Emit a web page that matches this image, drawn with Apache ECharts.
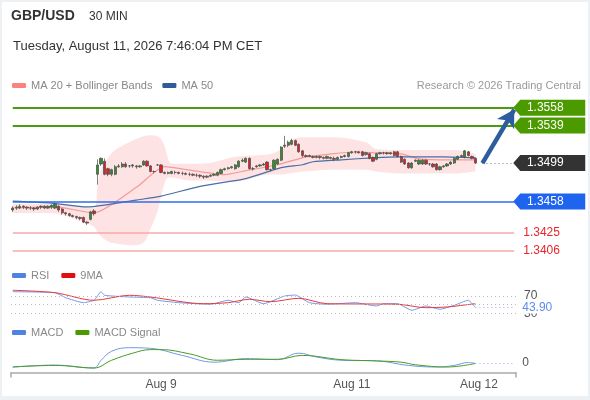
<!DOCTYPE html>
<html>
<head>
<meta charset="utf-8">
<script src="https://cdn.jsdelivr.net/npm/echarts@6.0.0/dist/echarts.min.js"></script>
<style>
  html, body { margin: 0; padding: 0; background: #edf1f4; }
  #paper { position: absolute; left: 2px; top: 2px; width: 586px; height: 394px; background: #fff; }
  #chart { position: absolute; left: 0; top: 0; width: 590px; height: 400px; }
</style>
</head>
<body>
<div id="paper"></div>
<div id="chart"></div>
<script>
// ---- x axis: 30-min slots, only three day labels are shown ----
const SLOTS = 143;
const dayLabels = ['Aug 9', 'Aug 11', 'Aug 12'];
const dayLabelIdx = [42, 96, 132];

// ---- GBP/USD 30 min candles ----
const candleOpen = [
  1.3449, 1.3451, 1.3451, 1.3453, 1.3452, 1.3451, 1.3451, 1.3450, 1.3452, 1.3453,
  1.3451, 1.3452, 1.3451, 1.3453, 1.3450, 1.3446, 1.3445, 1.3443, 1.3442, 1.3441,
  1.3441, 1.3436, 1.3439, 1.3448, 1.3487, 1.3498, 1.3501, 1.3493, 1.3487, 1.3487,
  1.3495, 1.3495, 1.3498, 1.3496, 1.3496, 1.3496, 1.3495, 1.3497, 1.3501, 1.3496,
  1.3490, 1.3497, 1.3497, 1.3489, 1.3488, 1.3488, 1.3489, 1.3489, 1.3488, 1.3488,
  1.3487, 1.3487, 1.3486, 1.3486, 1.3485, 1.3484, 1.3485, 1.3486, 1.3486, 1.3488,
  1.3492, 1.3493, 1.3494, 1.3493, 1.3495, 1.3501, 1.3500, 1.3504, 1.3493, 1.3495,
  1.3496, 1.3497, 1.3500, 1.3492, 1.3493, 1.3498, 1.3502, 1.3517, 1.3518, 1.3519,
  1.3523, 1.3519, 1.3512, 1.3507, 1.3506, 1.3506, 1.3505, 1.3506, 1.3505, 1.3504,
  1.3505, 1.3504, 1.3503, 1.3505, 1.3506, 1.3506, 1.3510, 1.3511, 1.3511, 1.3511,
  1.3508, 1.3509, 1.3505, 1.3503, 1.3509, 1.3510, 1.3510, 1.3509, 1.3511, 1.3511,
  1.3506, 1.3503, 1.3499, 1.3494, 1.3501, 1.3498, 1.3498, 1.3502, 1.3498, 1.3498,
  1.3498, 1.3492, 1.3495, 1.3496, 1.3498, 1.3499, 1.3503, 1.3506, 1.3505, 1.3511,
  1.3506, 1.3504
];
const candleClose = [
  1.3451, 1.3452, 1.3453, 1.3452, 1.3451, 1.3451, 1.3450, 1.3452, 1.3453, 1.3451,
  1.3453, 1.3454, 1.3455, 1.3449, 1.3446, 1.3445, 1.3443, 1.3442, 1.3441, 1.3440,
  1.3436, 1.3435, 1.3447, 1.3445, 1.3497, 1.3504, 1.3487, 1.3487, 1.3492, 1.3495,
  1.3496, 1.3498, 1.3495, 1.3496, 1.3497, 1.3495, 1.3496, 1.3501, 1.3496, 1.3490,
  1.3490, 1.3497, 1.3489, 1.3488, 1.3489, 1.3490, 1.3489, 1.3488, 1.3488, 1.3487,
  1.3487, 1.3486, 1.3486, 1.3485, 1.3484, 1.3485, 1.3486, 1.3487, 1.3489, 1.3492,
  1.3493, 1.3494, 1.3495, 1.3497, 1.3501, 1.3502, 1.3504, 1.3493, 1.3493, 1.3496,
  1.3497, 1.3498, 1.3492, 1.3492, 1.3502, 1.3503, 1.3516, 1.3518, 1.3521, 1.3523,
  1.3518, 1.3511, 1.3507, 1.3506, 1.3507, 1.3505, 1.3506, 1.3505, 1.3504, 1.3506,
  1.3504, 1.3503, 1.3505, 1.3506, 1.3507, 1.3510, 1.3511, 1.3511, 1.3510, 1.3507,
  1.3510, 1.3504, 1.3501, 1.3509, 1.3510, 1.3510, 1.3509, 1.3510, 1.3507, 1.3506,
  1.3500, 1.3498, 1.3494, 1.3499, 1.3502, 1.3502, 1.3502, 1.3498, 1.3498, 1.3495,
  1.3492, 1.3495, 1.3496, 1.3498, 1.3500, 1.3504, 1.3506, 1.3507, 1.3512, 1.3507,
  1.3504, 1.3499
];
const candleLow = [
  1.3447, 1.3449, 1.3450, 1.3450, 1.3449, 1.3449, 1.3448, 1.3449, 1.3450, 1.3450,
  1.3450, 1.3450, 1.3450, 1.3447, 1.3444, 1.3443, 1.3442, 1.3441, 1.3439, 1.3438,
  1.3435, 1.3433, 1.3438, 1.3443, 1.3476, 1.3496, 1.3486, 1.3485, 1.3485, 1.3486,
  1.3494, 1.3494, 1.3494, 1.3494, 1.3494, 1.3493, 1.3494, 1.3496, 1.3495, 1.3489,
  1.3488, 1.3496, 1.3488, 1.3487, 1.3487, 1.3487, 1.3487, 1.3487, 1.3486, 1.3486,
  1.3485, 1.3485, 1.3484, 1.3483, 1.3482, 1.3483, 1.3484, 1.3485, 1.3485, 1.3487,
  1.3491, 1.3492, 1.3493, 1.3492, 1.3494, 1.3500, 1.3499, 1.3492, 1.3491, 1.3494,
  1.3495, 1.3496, 1.3491, 1.3490, 1.3492, 1.3497, 1.3501, 1.3515, 1.3516, 1.3518,
  1.3517, 1.3510, 1.3505, 1.3505, 1.3505, 1.3504, 1.3504, 1.3503, 1.3503, 1.3503,
  1.3503, 1.3501, 1.3502, 1.3504, 1.3505, 1.3505, 1.3509, 1.3509, 1.3509, 1.3506,
  1.3507, 1.3503, 1.3500, 1.3502, 1.3508, 1.3508, 1.3508, 1.3508, 1.3506, 1.3505,
  1.3499, 1.3497, 1.3493, 1.3493, 1.3500, 1.3497, 1.3497, 1.3497, 1.3496, 1.3494,
  1.3491, 1.3491, 1.3494, 1.3495, 1.3497, 1.3498, 1.3502, 1.3505, 1.3504, 1.3506,
  1.3503, 1.3498
];
const candleHigh = [
  1.3453, 1.3454, 1.3455, 1.3454, 1.3453, 1.3453, 1.3452, 1.3453, 1.3454, 1.3454,
  1.3454, 1.3455, 1.3457, 1.3454, 1.3451, 1.3447, 1.3446, 1.3444, 1.3443, 1.3442,
  1.3442, 1.3437, 1.3448, 1.3450, 1.3503, 1.3505, 1.3504, 1.3494, 1.3493, 1.3497,
  1.3498, 1.3500, 1.3500, 1.3497, 1.3498, 1.3497, 1.3497, 1.3502, 1.3502, 1.3497,
  1.3491, 1.3498, 1.3498, 1.3490, 1.3490, 1.3491, 1.3491, 1.3490, 1.3490, 1.3489,
  1.3489, 1.3488, 1.3488, 1.3487, 1.3486, 1.3486, 1.3487, 1.3488, 1.3490, 1.3493,
  1.3494, 1.3495, 1.3496, 1.3498, 1.3502, 1.3504, 1.3505, 1.3505, 1.3495, 1.3497,
  1.3498, 1.3499, 1.3501, 1.3493, 1.3503, 1.3504, 1.3517, 1.3528, 1.3523, 1.3525,
  1.3524, 1.3520, 1.3513, 1.3508, 1.3508, 1.3507, 1.3507, 1.3507, 1.3506, 1.3507,
  1.3506, 1.3506, 1.3506, 1.3507, 1.3508, 1.3511, 1.3512, 1.3512, 1.3512, 1.3512,
  1.3511, 1.3510, 1.3506, 1.3510, 1.3511, 1.3511, 1.3511, 1.3511, 1.3512, 1.3512,
  1.3507, 1.3504, 1.3500, 1.3500, 1.3503, 1.3503, 1.3503, 1.3503, 1.3499, 1.3499,
  1.3499, 1.3496, 1.3497, 1.3499, 1.3501, 1.3505, 1.3507, 1.3508, 1.3513, 1.3512,
  1.3507, 1.3505
];

// ---- MA 20 / MA 50 / Bollinger bands (vertices read at slot indices) ----
const ma20Idx = [0, 12, 23, 35, 43, 51, 60, 66, 75, 83, 90, 97, 103, 110, 115, 124, 131];
const ma20Val = [1.34511, 1.34522, 1.34459, 1.34731, 1.34951, 1.34909, 1.34867, 1.34909, 1.34972,
                 1.35056, 1.35087, 1.35108, 1.35098, 1.35087, 1.35035, 1.35025, 1.35025];
const ma50Idx = [0, 11, 21, 26, 35, 42, 53, 66, 76, 82, 85, 93, 102, 110, 122, 131];
const ma50Val = [1.34584, 1.34563, 1.34522, 1.34542, 1.34595, 1.34637, 1.34742, 1.34825,
                 1.34941, 1.34972, 1.35004, 1.35025, 1.35046, 1.35056, 1.35056, 1.35046];
const bbIdx = [0, 8, 13, 19, 23, 24, 25, 27, 29, 33, 37, 39, 41, 42, 43, 44, 45, 50, 54, 63,
               73, 76, 78, 82, 90, 100, 103, 110, 125, 131];
const bbUpper = [1.34553, 1.34553, 1.34553, 1.34532, 1.34511, 1.34742, 1.34920, 1.35046, 1.35129, 1.35213,
                 1.35276, 1.35287, 1.35276, 1.35245, 1.35171, 1.35035, 1.34983, 1.34983, 1.34983, 1.35056,
                 1.35087, 1.35140, 1.35224, 1.35266, 1.35266, 1.35213, 1.35140, 1.35129, 1.35129, 1.35087];
const bbLower = [1.34459, 1.34459, 1.34448, 1.34375, 1.34312, 1.34249, 1.34207, 1.34155, 1.34134, 1.34113,
                 1.34144, 1.34291, 1.34480, 1.34637, 1.34773, 1.34836, 1.34836, 1.34804, 1.34804, 1.34794,
                 1.34867, 1.34867, 1.34878, 1.34899, 1.34920, 1.34920, 1.34899, 1.34878, 1.34878, 1.34899];

// ---- price levels ----
const resistance = [1.3558, 1.3539];
const lastPrice = 1.3499;
const support = 1.3458;
const weakLevels = [1.3425, 1.3406];
const arrowTarget = 1.3556;

// ---- RSI + 9MA ----
const rsiIdx = [0, 12, 15, 20, 23, 25, 26, 33, 39, 41, 47, 56, 61, 64, 66, 71, 77, 80, 84, 89,
                97, 103, 105, 109, 113, 117, 121, 125, 129, 131];
const rsiVal = [79.4, 77.1, 65.8, 54.6, 60.0, 79.4, 71.3, 67.4, 65.8, 60.0, 54.6, 50.9, 60.0, 54.6, 67.4,
                52.3, 69.7, 71.9, 54.6, 50.9, 54.6, 47.1, 52.3, 52.3, 37.4, 47.1, 39.7, 48.7, 60.0, 43.9];
const rsiMaIdx = [0, 12, 23, 33, 39, 54, 61, 67, 73, 81, 89, 109, 117, 123, 128, 131];
const rsiMaVal = [82.6, 77.1, 60.0, 71.3, 67.4, 52.3, 54.6, 62.2, 56.8, 64.5, 52.3, 51.0, 43.3, 44.9, 49.4, 52.3];
const rsiLevels = [70, 50, 30];
const rsiLast = 43.90;

// ---- MACD + signal ----
const macdIdx = [0, 12, 23, 25, 28, 33, 39, 48, 57, 66, 75, 81, 86, 93, 103, 112, 120, 125, 129, 131];
const macdVal = [-0.00013, -0.00007, -0.00016, 0.00008, 0.00036, 0.00047, 0.00045, 0.00023, 0.00002, 0.00013,
                 0.00010, 0.00030, 0.00018, 0.00008, 0.00006, -0.00008, -0.00013, -0.00008, 0.00001, -0.00002];
const signalIdx = [0, 12, 23, 28, 34, 39, 42, 50, 58, 66, 75, 82, 93, 103, 110, 114, 123, 131];
const signalVal = [-0.00013, -0.00008, -0.00016, 0.00008, 0.00030, 0.00041, 0.00041, 0.00028, 0.00008,
                   0.00011, 0.00011, 0.00023, 0.00010, 0.00006, 0.00002, -0.00006, -0.00013, -0.00002];

const FONT = '"Liberation Sans", Arial, sans-serif';
const categories = Array.from({ length: SLOTS }, (_, i) => String(i));
const pairs = (idx, vals) => idx.map((x, k) => [x, vals[k]]);
const LAST = candleOpen.length - 1;
const END = SLOTS - 1;

const chart = echarts.init(document.getElementById('chart'), null, { renderer: 'canvas' });

const hiddenX = gi => ({ type: 'category', gridIndex: gi, data: categories, boundaryGap: true, show: false });

// pentagon tag pointing left, like the price boxes on the right
const tagPath = 'path://M0,8.5L7,0H72V17H7Z';
const tag = (v, color) => ({
  coord: [END, v], value: v,
  symbol: tagPath, symbolSize: [72, 16], symbolKeepAspect: false, symbolOffset: [35, 0],
  itemStyle: { color },
  label: { show: true, position: 'inside', color: '#fff', fontSize: 12, fontFamily: FONT,
           offset: [-4, 0], formatter: v.toFixed(4) },
});

// a level drawn as a coord pair (yAxis-only marklines get rounded on this axis)
const level = (v, from, lineStyle, label) => [
  { coord: [from, v], lineStyle, label: label || { show: false } },
  { coord: [END, v] },
];
const levelLines = [
  ...resistance.map(v => level(v, 0, { color: '#4c9a0e', width: 2, type: 'solid' })),
  level(support, 0, { color: '#2f6ee8', width: 1.5, type: 'solid' }),
  ...weakLevels.map(v => level(v, 0, { color: '#f7a9a9', width: 1.5, type: 'solid' },
    { show: true, position: 'end', distance: 9, color: '#e8262a', fontSize: 12, formatter: v.toFixed(4) })),
  level(lastPrice, LAST + 2, { color: '#777', width: 1, type: [1, 3] }),
];

const option = {
  animation: false,
  backgroundColor: 'transparent',
  textStyle: { fontFamily: FONT },
  title: [
    { text: 'GBP/USD', left: 11, top: 9, padding: 0, textStyle: { fontSize: 14, fontWeight: 'bold', color: '#333', fontFamily: FONT } },
    { text: '30 MIN', left: 89, top: 11, padding: 0, textStyle: { fontSize: 12, fontWeight: 'normal', color: '#333', fontFamily: FONT } },
    { text: 'Tuesday, August 11, 2026 7:46:04 PM CET', left: 13, top: 40, padding: 0,
      textStyle: { fontSize: 13, fontWeight: 'normal', color: '#333', fontFamily: FONT } },
    { text: 'Research © 2026 Trading Central', right: 9, top: 80, padding: 0,
      textStyle: { fontSize: 11, fontWeight: 'normal', color: '#999', fontFamily: FONT } },
  ],
  legend: [
    { left: 12, top: 80, padding: 0, icon: 'roundRect', itemWidth: 14, itemHeight: 5, itemGap: 10,
      selectedMode: false, textStyle: { color: '#888', fontSize: 11 },
      data: [{ name: 'MA 20 + Bollinger Bands', itemStyle: { color: '#ff8080' } },
             { name: 'MA 50', itemStyle: { color: '#2f5b9c' } }] },
    { left: 12, top: 270, padding: 0, icon: 'roundRect', itemWidth: 14, itemHeight: 5, itemGap: 12,
      selectedMode: false, textStyle: { color: '#888', fontSize: 11 },
      data: [{ name: 'RSI', itemStyle: { color: '#4f82e3' } }, { name: '9MA', itemStyle: { color: '#e01010' } }] },
    { left: 12, top: 327, padding: 0, icon: 'roundRect', itemWidth: 14, itemHeight: 5, itemGap: 12,
      selectedMode: false, textStyle: { color: '#888', fontSize: 11 },
      data: [{ name: 'MACD', itemStyle: { color: '#4f82e3' } }, { name: 'MACD Signal', itemStyle: { color: '#4a9a00' } }] },
  ],
  grid: [
    { left: 11, width: 505, top: 100.2, height: 159.5 },
    { left: 11, width: 505, top: 287, height: 31 },
    { left: 11, width: 505, top: 343.5, height: 29 },
  ],
  xAxis: [
    hiddenX(0),
    hiddenX(1),
    {
      type: 'category', gridIndex: 2, data: categories, boundaryGap: true,
      axisLine: { show: false }, axisTick: { show: false }, splitLine: { show: false },
      axisLabel: {
        color: '#555', fontSize: 12, margin: 6,
        interval: i => dayLabelIdx.includes(i),
        formatter: (v, i) => { const k = dayLabelIdx.indexOf(i); return k >= 0 ? dayLabels[k] : ''; },
      },
    },
    // plain line with end ticks under the MACD panel
    { type: 'value', gridIndex: 2, min: 0, max: 1, interval: 1, position: 'bottom',
      axisLine: { show: true, lineStyle: { color: '#aaa', width: 1.5 } },
      axisTick: { show: true, length: 5, lineStyle: { color: '#aaa', width: 1.5 } },
      axisLabel: { show: false }, splitLine: { show: false } },
  ],
  yAxis: [
    { type: 'value', gridIndex: 0, min: 1.3396, max: 1.3566, show: false, splitLine: { show: false } },
    { type: 'value', gridIndex: 1, min: 20, max: 90, show: false, splitLine: { show: false } },
    { type: 'value', gridIndex: 2, min: -0.0003, max: 0.0006, show: false, splitLine: { show: false } },
  ],
  series: [
    // Bollinger band fill = lower edge + stacked width
    { name: 'bbBase', type: 'line', xAxisIndex: 0, yAxisIndex: 0, stack: 'bb', smooth: 0.35,
      showSymbol: false, silent: true, z: 1, lineStyle: { opacity: 0 },
      data: pairs(bbIdx, bbLower) },
    { name: 'bbWidth', type: 'line', xAxisIndex: 0, yAxisIndex: 0, stack: 'bb', smooth: 0.35,
      showSymbol: false, silent: true, z: 1, lineStyle: { opacity: 0 },
      areaStyle: { color: '#fde3e3', opacity: 1 },
      data: bbIdx.map((x, k) => [x, bbUpper[k] - bbLower[k]]) },
    { name: 'MA 20 + Bollinger Bands', type: 'line', xAxisIndex: 0, yAxisIndex: 0, smooth: 0.2,
      showSymbol: false, z: 2, lineStyle: { color: '#f59a9a', width: 1.2 }, itemStyle: { color: '#ff8080' },
      data: pairs(ma20Idx, ma20Val),
      markLine: { silent: true, animation: false, symbol: 'none', z: 5, label: { show: false }, data: levelLines } },
    { name: 'MA 50', type: 'line', xAxisIndex: 0, yAxisIndex: 0, smooth: 0.2,
      showSymbol: false, z: 2, lineStyle: { color: '#4a6ea8', width: 1.2 }, itemStyle: { color: '#2f5b9c' },
      data: pairs(ma50Idx, ma50Val),
      markLine: {
        silent: true, animation: false, symbol: ['none', 'arrow'], symbolSize: [15, 17], z: 6,
        lineStyle: { color: '#2e5d9e', width: 4.5, type: 'solid' }, label: { show: false },
        data: [[{ coord: [LAST + 2, lastPrice] }, { coord: [END, arrowTarget] }]],
      } },
    { name: 'GBP/USD', type: 'candlestick', xAxisIndex: 0, yAxisIndex: 0, z: 3, barWidth: 2.8,
      data: candleOpen.map((o, i) => [o, candleClose[i], candleLow[i], candleHigh[i]]),
      itemStyle: { color: '#2f8f2f', color0: '#d8232a', borderColor: '#4a4a4a', borderColor0: '#4a4a4a', borderWidth: 0.7 },
      markPoint: {
        silent: true, animation: false, z: 7,
        data: [
          ...resistance.map(v => tag(v, '#4a9a00')),
          tag(lastPrice, '#333333'),
          tag(support, '#1f64ee'),
        ],
      } },

    // RSI panel
    { name: 'RSI', type: 'line', xAxisIndex: 1, yAxisIndex: 1, showSymbol: false, smooth: 0.15,
      lineStyle: { color: '#6f99ea', width: 1 }, itemStyle: { color: '#4f82e3' },
      data: pairs(rsiIdx, rsiVal),
      markLine: {
        silent: true, animation: false, symbol: 'none',
        lineStyle: { color: '#bbb', width: 1, type: [1, 3] },
        label: { show: true, position: 'end', distance: 8, color: '#555', fontSize: 12 },
        data: [
          ...rsiLevels.map(v => ({ yAxis: v, label: { show: v !== 50, formatter: String(v) } })),
          [{ coord: [LAST, rsiLast], lineStyle: { color: '#8fb0f0', width: 1, type: [1, 3] },
             label: { show: true, position: 'end', distance: 8, color: '#5b8def', fontSize: 12,
                      backgroundColor: '#fff', padding: [0, 2, 0, 0], formatter: rsiLast.toFixed(2) } },
           { coord: [END, rsiLast] }],
        ],
      } },
    { name: '9MA', type: 'line', xAxisIndex: 1, yAxisIndex: 1, showSymbol: false, smooth: 0.3,
      lineStyle: { color: '#e8383c', width: 1 }, itemStyle: { color: '#e01010' },
      data: pairs(rsiMaIdx, rsiMaVal) },

    // MACD panel
    { name: 'MACD', type: 'line', xAxisIndex: 2, yAxisIndex: 2, showSymbol: false, smooth: 0.4,
      lineStyle: { color: '#6f99ea', width: 1 }, itemStyle: { color: '#4f82e3' },
      data: pairs(macdIdx, macdVal),
      markLine: {
        silent: true, animation: false, symbol: 'none',
        data: [[{ coord: [LAST, 0], lineStyle: { color: '#8fb0f0', width: 1, type: [1, 3] },
                  label: { show: true, position: 'end', distance: 8, color: '#555', fontSize: 12, formatter: '0' } },
                { coord: [END, 0] }]],
      } },
    { name: 'MACD Signal', type: 'line', xAxisIndex: 2, yAxisIndex: 2, showSymbol: false, smooth: 0.4,
      lineStyle: { color: '#4a9a20', width: 1 }, itemStyle: { color: '#4a9a00' },
      data: pairs(signalIdx, signalVal) },
  ],
};

chart.setOption(option);
window.addEventListener('resize', () => chart.resize());
</script>
</body>
</html>
